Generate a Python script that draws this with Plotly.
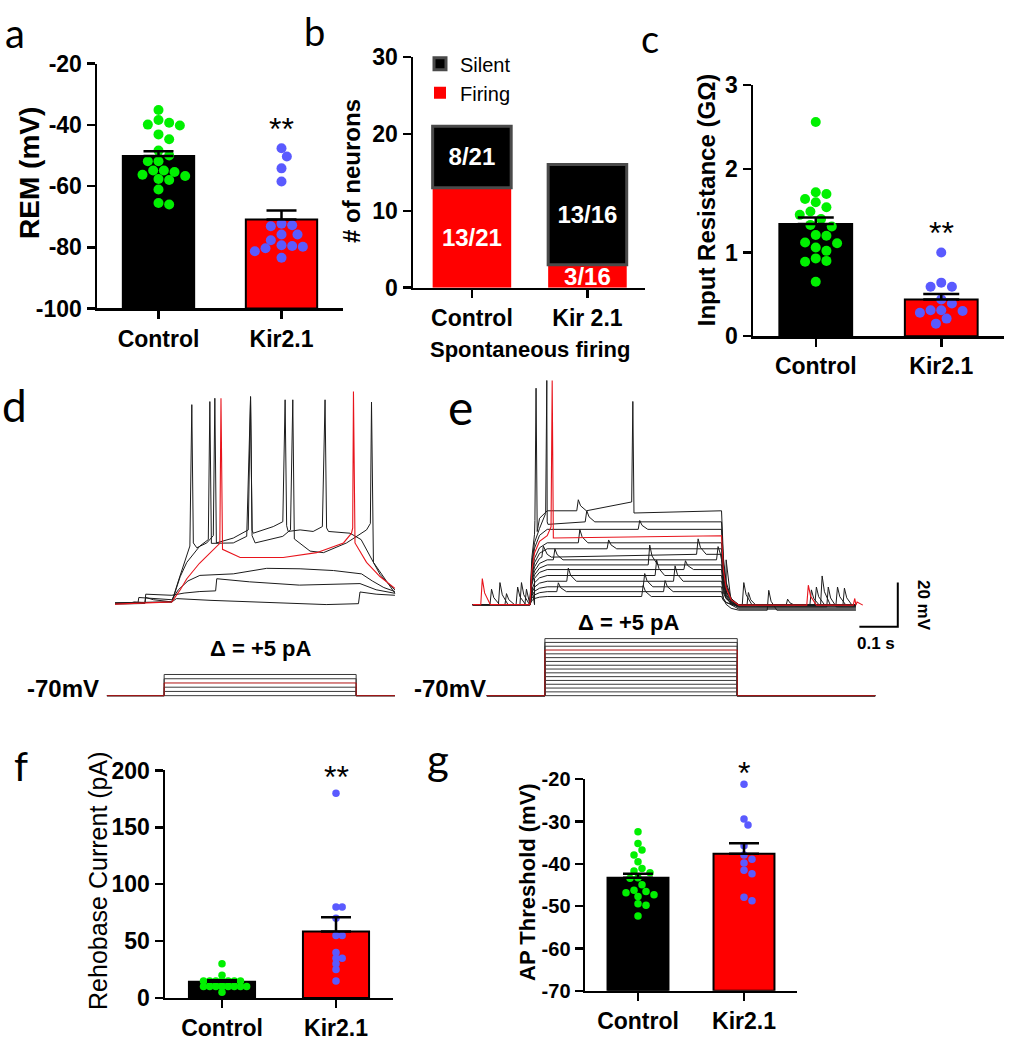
import numpy as np
import plotly.graph_objects as go

W, H = 1011, 1050
ARIAL = "Liberation Sans, Arial, sans-serif"
LETTER = "Lato, Open Sans, sans-serif"


def fx(p):
    return p / W


def fy(p):
    return 1 - p / H


# ---------------- data ----------------
groups = ["Control", "Kir2.1"]

# a: resting membrane potential (mV)
rem_control = [-35.1, -38.4, -39.9, -40.2, -39.3, -43.1, -44.7, -48.4, -50.0, -51.9, -51.9,
               -54.9, -55.4, -54.9, -56.7, -56.3, -57.7, -58.0, -61.1, -66.0, -65.5]
rem_kir = [-47.6, -50.3, -54.2, -58.5, -72.3, -73.1, -72.8, -75.8, -75.8, -77.7, -79.3,
           -79.6, -80.3, -79.8, -81.3, -83.4]
rem_mean = [-50.2, -70.9]
rem_sem = [1.6, 2.9]

# b: spontaneous firing counts
spont_groups = ["Control", "Kir 2.1"]
firing = [13, 3]
silent = [8, 13]
total = [21, 16]

# c: input resistance (GOhm)
rin_control = [2.56, 1.72, 1.70, 1.64, 1.60, 1.54, 1.49, 1.45, 1.40, 1.33, 1.31, 1.21, 1.20,
               1.12, 1.11, 1.06, 1.02, 0.90, 0.89, 0.93, 0.65]
rin_kir = [1.00, 0.59, 0.59, 0.64, 0.39, 0.44, 0.31, 0.28, 0.30, 0.31, 0.21, 0.15]
rin_mean = [1.34, 0.44]
rin_sem = [0.08, 0.063]

# f: rheobase current (pA)
rheo_control = [30, 20, 15, 15, 15, 15, 15, 15, 15, 10, 10, 10, 10, 10, 10, 10, 10, 5]
rheo_kir = [180, 80, 80, 70, 55, 55, 40, 35, 35, 30, 25, 15]
rheo_mean = [14.3, 58.5]
rheo_sem = [1.4, 12.4]

# g: AP threshold (mV)
apt_control = [-32.4, -35.2, -36.7, -37.9, -39.5, -41.1, -41.7, -42.1, -43.3, -43.4, -44.9,
               -46.2, -46.8, -46.5, -47.3, -47.7, -49.4, -49.8, -52.3]
apt_kir = [-21.2, -29.4, -30.8, -35.7, -37.9, -38.9, -39.8, -41.5, -42.3, -47.9, -48.7]
apt_mean = [-43.3, -37.6]
apt_sem = [1.0, 2.5]

# significance marks: (panel axis number, label, value on that axis)
sig_panels = [1, 3, 8, 9]
sig_labels = ["**", "**", "**", "*"]
sig_values = [-40.0, 1.28, 198.0, -17.5]

# d: current-clamp traces, time (s) / membrane potential (mV)
d_t_low = [0, .04, .05, .078, .08, .1, .148, .16, .25, .4, .55, .634, .638, .68, .729]
d_v_low = [-70.3, -70, -69.5, -69.8, -67.5, -68.5, -69.5, -68.0, -68.8, -69.8, -70.7, -70.3, -65.0, -66.0, -66.5]
d_t_mid = [0, .078, .08, .148, .18, .221, .262, .265, .35, .48, .638, .68, .729]
d_v_mid = [-70.5, -70.2, -66, -66.5, -65.5, -64.8, -64.5, -59.0, -60.4, -61.9, -61.2, -64.0, -65.6]
d_t_up = [0, .06, .062, .148, .165, .19, .221, .308, .395, .482, .569, .642, .67, .7, .729]
d_v_up = [-70, -69.8, -67.5, -68.5, -64, -60, -57.5, -56.8, -54.3, -54.5, -55.3, -56.8, -60.0, -63.0, -64.8]
d_t_spkA = [0, .148, .165, .187, .195, .2, .204, .213, .239, .256, .26, .264, .308, .347, .353, .357,
            .365, .437, .457, .463, .467, .508, .543, .603, .655, .665, .668, .673, .69, .707, .729]
d_v_spkA = [-70, -69.5, -60, -48, -44.2, 19.8, -42.8, -45.0, -42.8, -39.5, 22.7, -42.8, -40.6, -36.9, 23.5,
            -39.5, -42.8, -39.8, -36.9, 22.0, -41, -46.5, -47.2, -42.8, -36.9, -34, 21.0, -51.6, -57, -60.4, -64.1]
d_t_spkB = [0, .148, .17, .187, .221, .243, .247, .251, .308, .343, .353, .357, .36, .412, .437, .443,
            .447, .451, .482, .516, .54, .547, .551, .556, .612, .641, .673, .707, .729]
d_v_spkB = [-70, -69.5, -58, -51.6, -44.2, -41.3, 21.2, -43, -42.8, -39.8, 23.0, -37, -38.4, -35.4, -33.2,
            22.0, -35, -37.6, -36.9, -37.6, -35.4, 22.0, -36, -37.6, -38.4, -41.3, -51.6, -60.4, -65.6]
d_t_red = [0, .1, .148, .17, .187, .22, .256, .273, .276, .28, .326, .438, .525, .595, .616, .619,
           .621, .625, .655, .69, .729]
d_v_red = [-70.5, -70, -69.5, -64, -59.0, -52.0, -45.7, -43, 22.7, -45.7, -49.4, -49.4, -47.2, -42.8,
           -38.4, -36, 25.7, -42.8, -51.6, -58, -63.4]

# d: current steps (pA)
d_steps = [0, 5, 10, 15, 20, 25]
d_red_step = 15
d_stim_t = [-0.021, 0.128, 0.628, 0.729]   # start, on, off, end

# e: Kir2.1 traces
e_on, e_off, e_end = 0.149, 0.648, 0.998
e_levels = [-27.5, -32.5, -35.9, -38.8, -42.0, -44.7, -47.2, -49.7, -52.0, -54.1, -56.8, -59.4,
            -61.9, -64.1, -66.3]
e_post = [-70.5, -71, -70, -70.2, -71.5, -70, -72, -70.5, -70, -71, -70.3, -70, -72.5, -70.5, -70]
e_red = 3
e_events = [
    [(0.271, 5)],
    [(0.293, 5)],
    [(0.431, 4)],
    [(0.021, 11.8), (0.870, 9), (0.991, 3)],
    [(0.275, 6)],
    [(0.35, 4)],
    [(0.180, 5), (0.583, 7)],
    [(0.210, 5), (0.635, 6), (0.964, 8), (0.816, 3)],
    [(0.457, 9), (0.891, 8), (0.946, 8)],
    [(0.136, 7), (0.922, 9), (0.55, 4)],
    [(0.475, 7), (0.123, 10), (0.878, 7)],
    [(0.523, 7), (0.245, 6), (0.113, 8), (0.906, 13)],
    [(0.444, 6), (0.084, 5), (0.767, 9)],
    [(0.219, 4), (0.497, 5), (0.067, 10), (0.714, 6)],
    [(0.440, 5), (0.045, 7), (0.702, 10)],
]
e_spike_trace = [0, 0, 1, 3]
e_spike_t = [0.165, 0.417, 0.193, 0.207]
e_spike_peak = [28.0, 22.0, 31.5, 31.5]

e_steps = [0, 5, 10, 15, 20, 25, 30, 35, 40, 45, 50, 55, 60, 65, 70, 75]
e_red_step = 60
e_stim_t = [0.037, 0.188, 0.689, 1.048]

SCALE_T, SCALE_V = 0.1, 20        # scale bar: 0.1 s, 20 mV
SCALE_ORIGIN = (1.107, -80.0)

# ---------------- helpers ----------------
PX_PER_S = 384.0
PX_PER_MV = 2.265


def swarm_offsets(values, ppu_y, ppu_x, diam, coll=None):
    coll = diam * 0.97 if coll is None else coll
    order = sorted(range(len(values)), key=lambda i: -values[i])
    placed = []
    offs = [0.0] * len(values)
    step = coll * 0.55
    for i in order:
        y = values[i] * ppu_y
        x = 0.0
        for k in range(0, 80):
            c = ((k + 1) // 2) * (1 if k % 2 == 1 else -1)
            x = c * step
            if all((x - px) ** 2 + (y - py) ** 2 >= coll ** 2 for px, py in placed):
                break
        placed.append((x, y))
        offs[i] = x / ppu_x
    return offs


fig = go.Figure()
layout = {}
yranges = {}


def ax_names(n):
    return ("x" if n == 1 else f"x{n}"), ("y" if n == 1 else f"y{n}")


def set_axes(n, xpx, ypx, xr, yrange, yticks, tsize, xtsize, ticktext):
    xa, ya = ax_names(n)
    xk = "xaxis" if n == 1 else f"xaxis{n}"
    yk = "yaxis" if n == 1 else f"yaxis{n}"
    yranges[n] = yrange
    layout[xk] = dict(domain=[fx(xpx[0]), fx(xpx[1])], range=list(xr), anchor=ya,
                      showline=True, linecolor="black", linewidth=2.5, ticks="outside",
                      ticklen=8, tickwidth=2.5, tickcolor="black", tickvals=[0, 1],
                      ticktext=ticktext,
                      tickfont=dict(family=ARIAL, size=xtsize, color="black", weight="bold"),
                      showgrid=False, zeroline=False)
    layout[yk] = dict(domain=[fy(ypx[1]), fy(ypx[0])], range=list(yrange), anchor=xa,
                      showline=True, linecolor="black", linewidth=2.5, ticks="outside",
                      ticklen=8, tickwidth=2.5, tickcolor="black", tickvals=yticks,
                      ticktext=[str(v) for v in yticks],
                      tickfont=dict(family=ARIAL, size=tsize, color="black", weight="bold"),
                      showgrid=False, zeroline=False)


def add_bar_panel(n, xpx, ypx, yrange, yticks, tsize, xtsize, means, sems, ctrl, kir,
                  diam, barw, capw, base, coll=None, xr=(-0.5, 1.5), ticktext=groups):
    xa, ya = ax_names(n)
    ppu_x = (xpx[1] - xpx[0]) / (xr[1] - xr[0])
    ppu_y = (ypx[1] - ypx[0]) / (yrange[1] - yrange[0])
    fig.add_trace(go.Bar(x=[0, 1], y=[m - base for m in means], base=base, width=barw,
                         marker=dict(color=["black", "#ff0000"], line=dict(color="black", width=2)),
                         xaxis=xa, yaxis=ya, showlegend=False, hoverinfo="skip"))
    for vals, col, xc in ((ctrl, "#00f000", 0), (kir, "#5a5aff", 1)):
        offs = swarm_offsets(vals, ppu_y, ppu_x, diam, coll)
        fig.add_trace(go.Scatter(x=[xc + o for o in offs], y=vals, mode="markers",
                                 marker=dict(size=diam, color=col, line=dict(width=0)),
                                 xaxis=xa, yaxis=ya, showlegend=False, cliponaxis=False))
    fig.add_trace(go.Scatter(x=[0, 1], y=means, mode="markers",
                             marker=dict(size=2, color="rgba(0,0,0,0)"),
                             error_y=dict(type="data", array=sems, arrayminus=[0, 0], symmetric=False,
                                          color="black", thickness=2.5, width=capw),
                             xaxis=xa, yaxis=ya, showlegend=False, cliponaxis=False))
    set_axes(n, xpx, ypx, xr, yrange, yticks, tsize, xtsize, ticktext)


TS = 23

# ---- panel a ----
add_bar_panel(1, (97, 343), (52, 303), (-100, -20), [-100, -80, -60, -40, -20], TS, TS,
              rem_mean, rem_sem, rem_control, rem_kir, 10, 0.58, 15, -100)

# ---- panel b ----
for vals, base, name, col, line in ((firing, 0, "Firing", "#ff0000", dict(width=0)),
                                    (silent, firing, "Silent", "black", dict(color="#4a4a4a", width=3))):
    fig.add_trace(go.Bar(x=[0, 1], y=vals, base=base, width=0.68, name=name,
                         marker=dict(color=col, line=line),
                         text=[f"{v}/{t}" for v, t in zip(vals, total)], textposition="inside",
                         insidetextanchor="middle", constraintext="none", textangle=0,
                         textfont=dict(family=ARIAL, size=24, color="white", weight="bold"),
                         xaxis="x2", yaxis="y2", hoverinfo="skip"))
set_axes(2, (413, 645.2), (45, 281.7), (-0.51, 1.5), (0, 30), [0, 10, 20, 30], TS, TS, spont_groups)

# ---- panel c ----
add_bar_panel(3, (753, 1004), (74, 331.4), (0, 3), [0, 1, 2, 3], TS, TS,
              rin_mean, rin_sem, rin_control, rin_kir, 10, 0.58, 18, 0)

# ---- panel f ----
add_bar_panel(8, (165, 393), (776.7, 1010), (0, 200), [0, 50, 100, 150, 200], TS, TS,
              rheo_mean, rheo_sem, rheo_control, rheo_kir, 7.5, 0.58, 15, 0, coll=5.6)

# ---- panel g ----
add_bar_panel(9, (585, 797), (785.7, 1002.7), (-70, -20), [-70, -60, -50, -40, -30, -20], 20, TS,
              apt_mean, apt_sem, apt_control, apt_kir, 7.5, 0.575, 15, -70)

# ---- panel d traces ----
BLACK = "#1c1c1c"
RED = "#e8141c"
for tt, vv in ((d_t_low, d_v_low), (d_t_mid, d_v_mid), (d_t_up, d_v_up),
               (d_t_spkA, d_v_spkA), (d_t_spkB, d_v_spkB)):
    fig.add_trace(go.Scatter(x=tt, y=vv, mode="lines", line=dict(color=BLACK, width=1),
                             xaxis="x4", yaxis="y4", showlegend=False, hoverinfo="skip"))
fig.add_trace(go.Scatter(x=d_t_red, y=d_v_red, mode="lines", line=dict(color=RED, width=1.1),
                         xaxis="x4", yaxis="y4", showlegend=False, hoverinfo="skip"))


def stim_draw(steps, red_step, st, xa, ya):
    t0, ton, toff, tend = st
    for s in steps:
        if s == red_step:
            continue
        fig.add_trace(go.Scatter(x=[t0, ton, ton, toff, toff, tend], y=[0, 0, s, s, 0, 0],
                                 mode="lines", line=dict(color="#3a3a3a", width=1),
                                 xaxis=xa, yaxis=ya, showlegend=False, hoverinfo="skip"))
    fig.add_trace(go.Scatter(x=[t0, ton, ton, toff, toff, tend],
                             y=[0, 0, red_step, red_step, 0, 0],
                             mode="lines", line=dict(color="#b01010", width=1),
                             xaxis=xa, yaxis=ya, showlegend=False, hoverinfo="skip"))


stim_draw(d_steps, d_red_step, d_stim_t, "x5", "y5")

# ---- panel e traces ----
RISE = [(0.005, 0.5), (0.012, 0.75), (0.025, 0.92), (0.045, 1.0)]


def e_trace(idx):
    level, post = e_levels[idx], e_post[idx]
    pts = [(0.0, -70.0), (e_on, -70.0)]
    for dt, fr in RISE:
        pts.append((e_on + dt, -70 + fr * (level + 70)))
    pts.append((e_off, level))
    for dt, fr in RISE:
        pts.append((e_off + dt, level + fr * (post - level)))
    pts.append((e_end, post))
    t0 = [p[0] for p in pts]
    v0 = [p[1] for p in pts]
    extra = []
    for te, amp in e_events[idx]:
        b = float(np.interp(te, t0, v0))
        extra += [(te, b), (te + 0.004, b + amp), (te + 0.010, b + 0.45 * amp), (te + 0.025, b)]
    for k, tr in enumerate(e_spike_trace):
        if tr == idx:
            ts, pk = e_spike_t[k], e_spike_peak[k]
            b = float(np.interp(ts, t0, v0))
            extra += [(ts - 0.003, b + 4), (ts, pk), (ts + 0.003, b - 1)]
    allp = sorted(pts + extra)
    return [p[0] for p in allp], [p[1] for p in allp]


for i in range(len(e_levels)):
    if i == e_red:
        continue
    tt, vv = e_trace(i)
    fig.add_trace(go.Scatter(x=tt, y=vv, mode="lines", line=dict(color=BLACK, width=1),
                             xaxis="x6", yaxis="y6", showlegend=False, hoverinfo="skip"))
tt, vv = e_trace(e_red)
fig.add_trace(go.Scatter(x=tt, y=vv, mode="lines", line=dict(color=RED, width=1.1),
                         xaxis="x6", yaxis="y6", showlegend=False, hoverinfo="skip"))

# scale bar
sx, sy = SCALE_ORIGIN
fig.add_trace(go.Scatter(x=[sx - SCALE_T, sx, sx], y=[sy, sy, sy + SCALE_V], mode="lines",
                         line=dict(color="black", width=2), xaxis="x6", yaxis="y6",
                         showlegend=False, hoverinfo="skip", cliponaxis=False))

stim_draw(e_steps, e_red_step, e_stim_t, "x7", "y7")

# trace axes (hidden)
hid = dict(visible=False, showgrid=False, zeroline=False)
layout["xaxis4"] = dict(domain=[fx(110), fx(400)], range=[(110 - 115) / PX_PER_S, (400 - 115) / PX_PER_S], anchor="y4", **hid)
layout["yaxis4"] = dict(domain=[fy(620), fy(375)], range=[-70 + (605 - 620) / PX_PER_MV, -70 + (605 - 375) / PX_PER_MV], anchor="x4", **hid)
layout["xaxis5"] = dict(domain=[fx(100), fx(400)], range=[(100 - 115) / PX_PER_S, (400 - 115) / PX_PER_S], anchor="y5", **hid)
layout["yaxis5"] = dict(domain=[fy(705), fy(670)], range=[-(705 - 700) / 0.868, (700 - 670) / 0.868], anchor="x5", **hid)
layout["xaxis6"] = dict(domain=[fx(468), fx(905)], range=[(468 - 472.7) / PX_PER_S, (905 - 472.7) / PX_PER_S], anchor="y6", **hid)
layout["yaxis6"] = dict(domain=[fy(635), fy(375)], range=[-70 - (635 - 606.7) / PX_PER_MV, -70 + (606.7 - 375) / PX_PER_MV], anchor="x6", **hid)
layout["xaxis7"] = dict(domain=[fx(468), fx(905)], range=[(468 - 472.7) / PX_PER_S, (905 - 472.7) / PX_PER_S], anchor="y7", **hid)
layout["yaxis7"] = dict(domain=[fy(705), fy(636)], range=[-(705 - 700) / 0.78, (700 - 636) / 0.78], anchor="x7", **hid)

# ---------------- annotations ----------------
ann = []


def txt(text, x, y, size, bold=True, family=ARIAL, angle=0, color="black", xanchor="center"):
    ann.append(dict(text=text, x=fx(x), y=fy(y), xref="paper", yref="paper", showarrow=False,
                    textangle=angle, xanchor=xanchor, yanchor="middle",
                    font=dict(family=family, size=size, color=color,
                              weight="bold" if bold else "normal")))


# panel letters
for letter, x, y, s in (("a", 15, 20, 40), ("b", 314, 18, 38), ("c", 650, 26, 38), ("d", 14, 402, 44),
                        ("e", 460, 404, 48), ("f", 21, 772, 40), ("g", 438, 765, 42)):
    txt(letter, x, y, s, bold=False, family=LETTER)

# axis titles
txt("REM (mV)", 30, 164, 28, angle=-90)
txt("# of neurons", 352, 162, 24, angle=-90)
txt("Spontaneous firing", 530, 345, 22)
txt("Input Resistance (GΩ)", 706, 192, 24, angle=-90)
txt("Rehobase Current (pA)", 98, 890, 25, bold=False, angle=-90)
txt("AP Threshold (mV)", 528, 891, 22, angle=-90)

# significance (placed relative to each panel's y domain so marks above the axis stay visible)
for n, s, val in zip(sig_panels, sig_labels, sig_values):
    xa, ya = ax_names(n)
    lo, hi = yranges[n]
    ann.append(dict(text=s, x=1, y=(val - lo) / (hi - lo), xref=xa, yref=f"{ya} domain",
                    showarrow=False, yshift=-4, yanchor="middle",
                    font=dict(family=ARIAL, size=32, color="black")))

# traces text
txt("Δ = +5 pA", 261, 652, 22)
txt("Δ = +5 pA", 629, 625, 22)
txt("-70mV", 63, 693, 24)
txt("-70mV", 450, 693, 24)
txt("20 mV", 923, 607, 17, angle=90)
txt("0.1 s", 876, 646, 17)

fig.update_layout(
    width=W, height=H, margin=dict(l=0, r=0, t=0, b=0),
    paper_bgcolor="white", plot_bgcolor="white", barmode="overlay",
    showlegend=True,
    legend=dict(x=fx(420), y=fy(32), xanchor="left", yanchor="top", traceorder="reversed",
                font=dict(family=ARIAL, size=20, color="black"), bgcolor="rgba(0,0,0,0)",
                tracegroupgap=0, itemwidth=30),
    annotations=ann,
    **layout,
)

fig.write_html("out.html", config={"displayModeBar": False, "staticPlot": True},
               post_script="document.body.style.margin='0px';")
